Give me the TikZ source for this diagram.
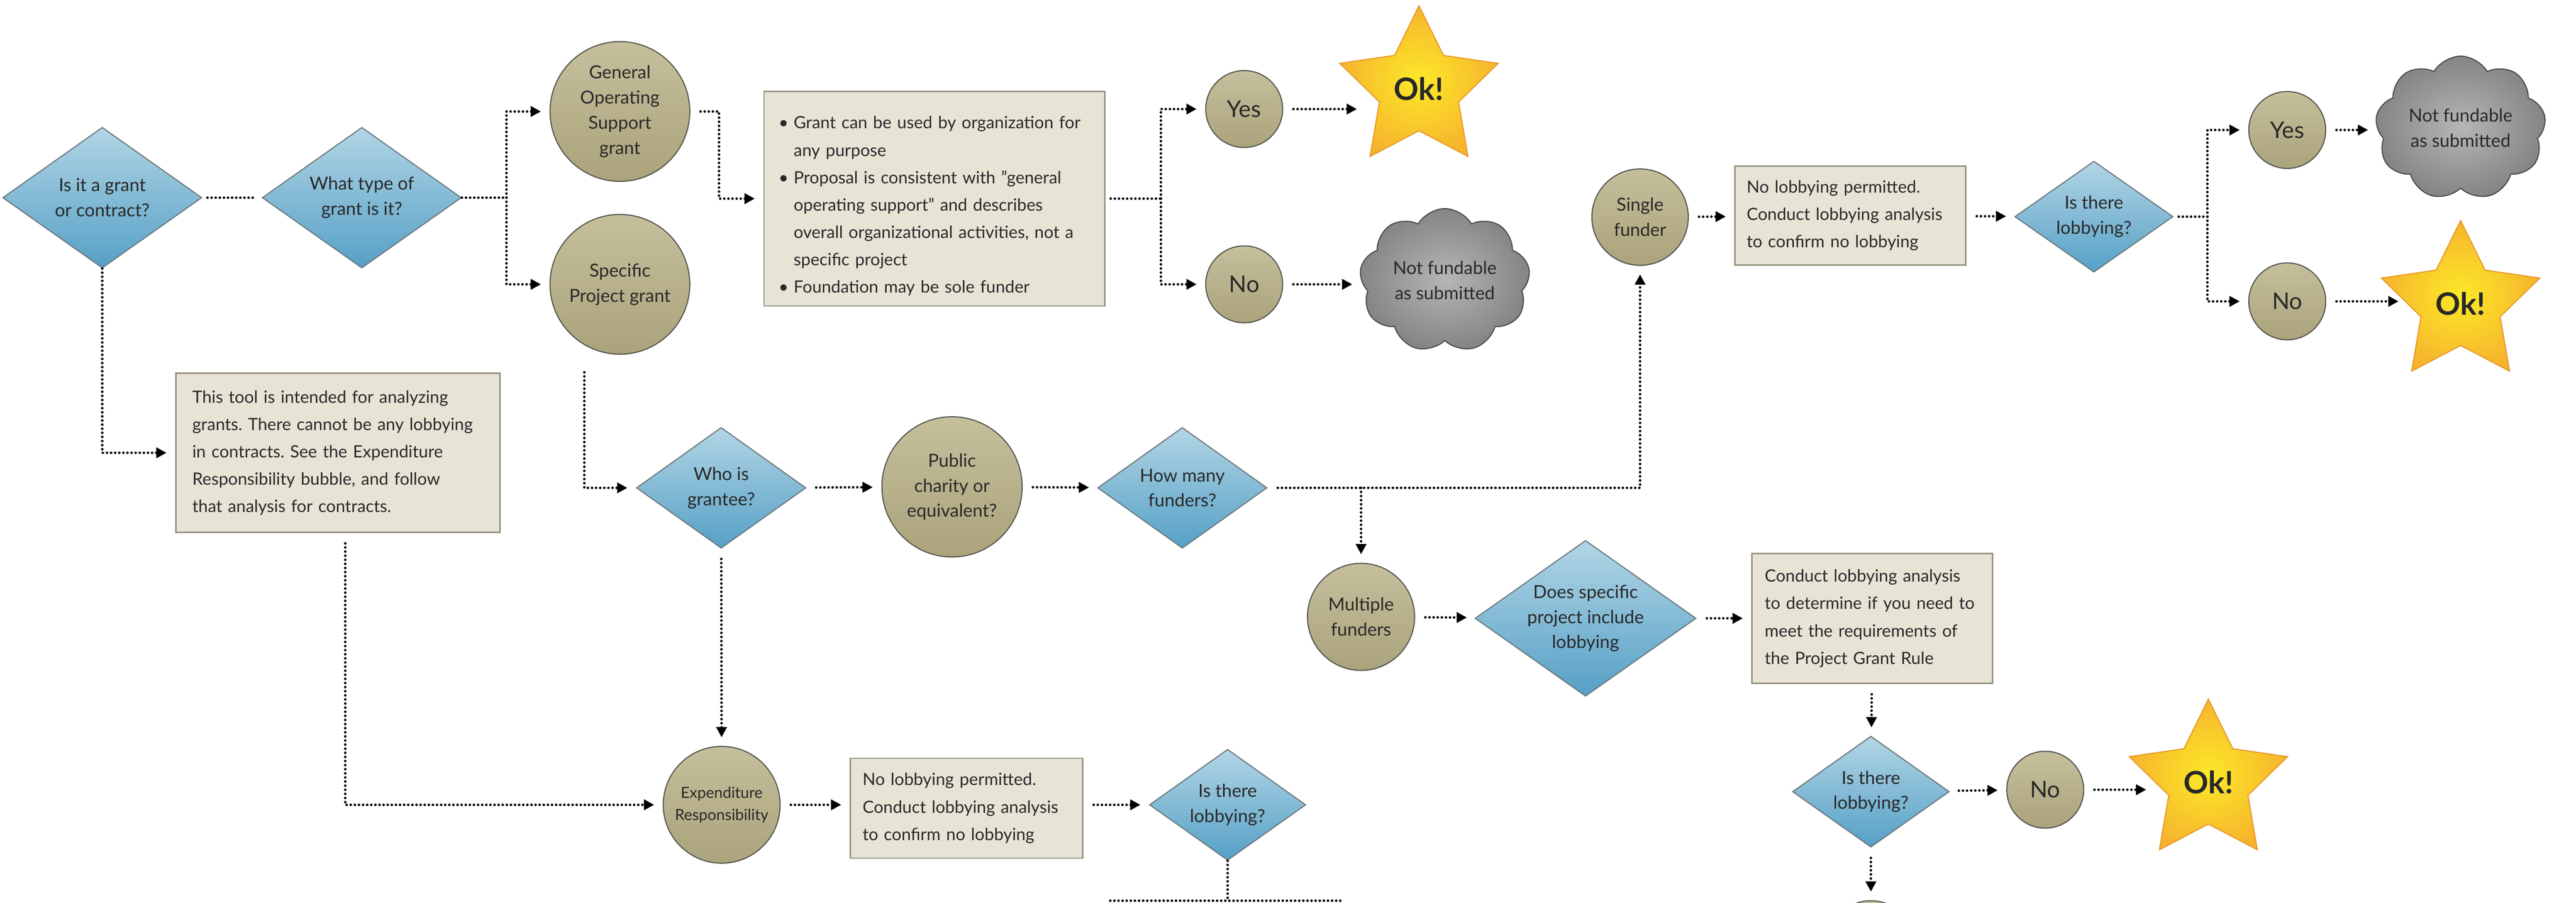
\documentclass[tikz,border=0pt]{standalone}
\usepackage{fontspec}
\setmainfont{Lato}
\usetikzlibrary{shapes.geometric,shapes.symbols,arrows.meta}
\frenchspacing

\definecolor{textgray}{RGB}{40,40,40}
\definecolor{dtop}{RGB}{178,213,229}
\definecolor{dbot}{RGB}{86,160,198}
\definecolor{dline}{RGB}{105,115,120}
\definecolor{ctop}{RGB}{197,191,156}
\definecolor{cbot}{RGB}{170,163,124}
\definecolor{cline}{RGB}{80,80,74}
\definecolor{bfill}{RGB}{231,228,214}
\definecolor{bline}{RGB}{150,147,130}
\definecolor{kin}{RGB}{182,182,182}
\definecolor{kout}{RGB}{132,132,132}
\definecolor{kline}{RGB}{70,70,70}
\definecolor{sin}{RGB}{252,233,40}
\definecolor{sout}{RGB}{246,180,45}
\definecolor{sline}{RGB}{230,150,40}

\newcommand{\bitem}[1]{\par\hangindent=0.31cm\hangafter=1\noindent\hbox to 0.31cm{\textbullet\hfil}#1}

\begin{document}
\begin{tikzpicture}[
    every node/.style={font=\fontsize{10.5}{14.7}\selectfont, text=textgray},
    decision/.style={diamond, draw=dline, line width=0.6pt, top color=dtop, bottom color=dbot, inner sep=-5mm, align=center},
    answer/.style={circle, draw=cline, line width=0.6pt, top color=ctop, bottom color=cbot, inner sep=0pt, align=center},
    infobox/.style={rectangle, draw=bline, fill=bfill, line width=0.8pt, inner ysep=0pt, align=left, font=\fontsize{9.9}{16}\selectfont},
    okstar/.style={star, star points=5, star point ratio=2, minimum size=3.42cm, draw=sline, line width=0.6pt, inner color=sin, outer color=sout, inner sep=0pt, font=\fontsize{18}{20}\selectfont\bfseries},
    nogo/.style={cloud, cloud puffs=9, cloud puff arc=120, aspect=1.2, draw=kline, line width=0.6pt, inner color=kin, outer color=kout, inner sep=0pt, minimum width=3.5cm, minimum height=2.84cm, align=center},
    yesno/.style={answer, minimum size=1.58cm, font=\fontsize{13.5}{16}\selectfont},
    link/.style={line width=1.5pt, line cap=round, dash pattern=on 0pt off 2.4pt},
    flow/.style={link, -{Triangle[length=6pt,width=6pt]}, shorten >=5pt, shorten <=6pt},
    branch/.style={flow, shorten <=0pt}
  ]
  \useasboundingbox (0,0) rectangle (52.90,-18.54);
  \clip (0,0) rectangle (52.90,-18.54);

  % grant or contract
  \node[decision, minimum width=4.09cm, minimum height=2.89cm] (gc) at (2.10,-4.06) {Is it a grant\\or contract?};
  \node[decision, minimum width=4.09cm, minimum height=2.89cm] (type) at (7.43,-4.06) {What type of\\grant is it?};
  \node[answer, minimum size=2.87cm] (gos) at (12.73,-2.29) {General\\Operating\\Support\\grant};
  \node[answer, minimum size=2.87cm] (spg) at (12.73,-5.84) {Specific\\Project grant};
  \node[infobox, text width=6.40cm, inner xsep=0.30cm, minimum height=4.41cm] (gosbox) at (19.19,-4.08)
    {\bitem{Grant can be used by organization for\newline any purpose}
     \bitem{Proposal is consistent with ”general\newline operating support” and describes\newline overall organizational activities, not a\newline specific project}
     \bitem{Foundation may be sole funder}};
  \node[yesno] (yes1) at (25.55,-2.24) {Yes};
  \node[yesno] (no1) at (25.55,-5.84) {No};
  \node[okstar] (ok1) at (29.14,-1.83) {Ok!};
  \node[nogo] (nf1) at (29.67,-5.76) {Not fundable\\as submitted};
  \node[infobox, text width=5.98cm, inner xsep=0.34cm, minimum height=3.27cm] (note) at (6.94,-9.30)
    {This tool is intended for analyzing\\grants. There cannot be any lobbying\\in contracts. See the Expenditure\\Responsibility bubble, and follow\\that analysis for contracts.};

  % specific project
  \node[decision, minimum width=3.48cm, minimum height=2.48cm] (who) at (14.81,-10.02) {Who is\\grantee?};
  \node[answer, minimum size=2.88cm] (pub) at (19.55,-10.00) {Public\\charity or\\equivalent?};
  \node[decision, minimum width=3.48cm, minimum height=2.48cm] (many) at (24.28,-10.02) {How many\\funders?};
  \node[answer, minimum size=1.98cm] (single) at (33.68,-4.46) {Single\\funder};
  \node[infobox, text width=4.26cm, inner xsep=0.24cm, minimum height=2.03cm] (solebox) at (38.00,-4.43)
    {No lobbying permitted.\\Conduct lobbying analysis\\to confirm no lobbying};
  \node[decision, minimum width=3.25cm, minimum height=2.28cm] (lob1) at (43.00,-4.45) {Is there\\lobbying?};
  \node[yesno] (yes2) at (46.97,-2.67) {Yes};
  \node[yesno] (no2) at (46.97,-6.19) {No};
  \node[nogo] (nf2) at (50.53,-2.63) {Not fundable\\as submitted};
  \node[okstar] (ok2) at (50.53,-6.24) {Ok!};

  \node[answer, minimum size=2.20cm] (multi) at (27.95,-12.67) {Multiple\\funders};
  \node[decision, minimum width=4.54cm, minimum height=3.20cm] (does) at (32.56,-12.70) {Does specific\\project include\\lobbying};
  \node[infobox, text width=4.42cm, inner xsep=0.26cm, minimum height=2.67cm] (rulebox) at (38.45,-12.70)
    {Conduct lobbying analysis\\to determine if you need to\\meet the requirements of\\the Project Grant Rule};
  \node[decision, minimum width=3.22cm, minimum height=2.28cm] (lob3) at (38.42,-16.26) {Is there\\lobbying?};
  \node[yesno] (no3) at (42.00,-16.22) {No};
  \node[okstar] (ok3) at (45.35,-16.07) {Ok!};
  \node[answer, minimum size=1.80cm] (next) at (38.42,-19.40) {};

  % expenditure responsibility
  \node[answer, minimum size=2.40cm, font=\fontsize{9}{13}\selectfont] (exp) at (14.82,-16.53) {Expenditure\\Responsibility};
  \node[infobox, text width=4.27cm, inner xsep=0.25cm, minimum height=2.05cm] (erbox) at (19.85,-16.60)
    {No lobbying permitted.\\Conduct lobbying analysis\\to confirm no lobbying};
  \node[decision, minimum width=3.21cm, minimum height=2.28cm] (lob2) at (25.21,-16.53) {Is there\\lobbying?};

  \coordinate (j1) at (10.40,-4.06);
  \coordinate (j2) at (23.84,-4.08);
  \coordinate (j3) at (45.33,-4.45);
  \coordinate (bl) at (22.80,-18.50);
  \coordinate (br) at (27.59,-18.50);

  \draw[link, shorten <=3pt, shorten >=3pt] (gc) -- (type);
  \draw[link] (type) -- (j1);
  \draw[branch] (j1) |- (gos);
  \draw[branch] (j1) |- (spg);
  \draw[flow] (gos.east) -- ++(0.59,0) |- (gosbox);
  \draw[link, shorten <=3pt] (gosbox) -- (j2);
  \draw[branch] (j2) |- (yes1);
  \draw[branch] (j2) |- (no1);
  \draw[flow] (yes1) -- (yes1 -| ok1.west);
  \draw[flow] (no1) -- (no1 -| nf1.west);
  \draw[flow, shorten <=0pt] (gc) |- (note);

  \draw[flow] ([xshift=-7.3mm,yshift=-1.5mm]spg.south) |- (who);
  \draw[flow] (who) -- (pub);
  \draw[flow] (pub) -- (many);
  \draw[flow] (many) -| (single);
  \draw[branch] (many.east -| multi) -- (multi);
  \draw[flow] (single) -- (solebox);
  \draw[flow] (solebox) -- (lob1);
  \draw[link, shorten <=3pt] (lob1) -- (j3);
  \draw[branch] (j3) |- (yes2);
  \draw[branch] (j3) |- (no2);
  \draw[flow] (yes2) -- (yes2 -| nf2.west);
  \draw[flow] (no2) -- (no2 -| ok2.west);

  \draw[flow] (multi) -- (does);
  \draw[flow] (does) -- (rulebox);
  \draw[flow] (rulebox) -- (lob3);
  \draw[flow] (lob3) -- (no3);
  \draw[flow] (no3) -- (no3 -| ok3.west);
  \draw[flow] (lob3) -- (next);

  \draw[flow] ([xshift=1.5mm]note.south) |- (exp);
  \draw[flow] (who) -- (exp);
  \draw[flow] (exp) -- (exp -| erbox.west);
  \draw[flow] (erbox.east |- lob2) -- (lob2);
  \draw[link] (lob2) -- (lob2 |- bl);
  \draw[link] (bl) -- (br);
\end{tikzpicture}
\end{document}
